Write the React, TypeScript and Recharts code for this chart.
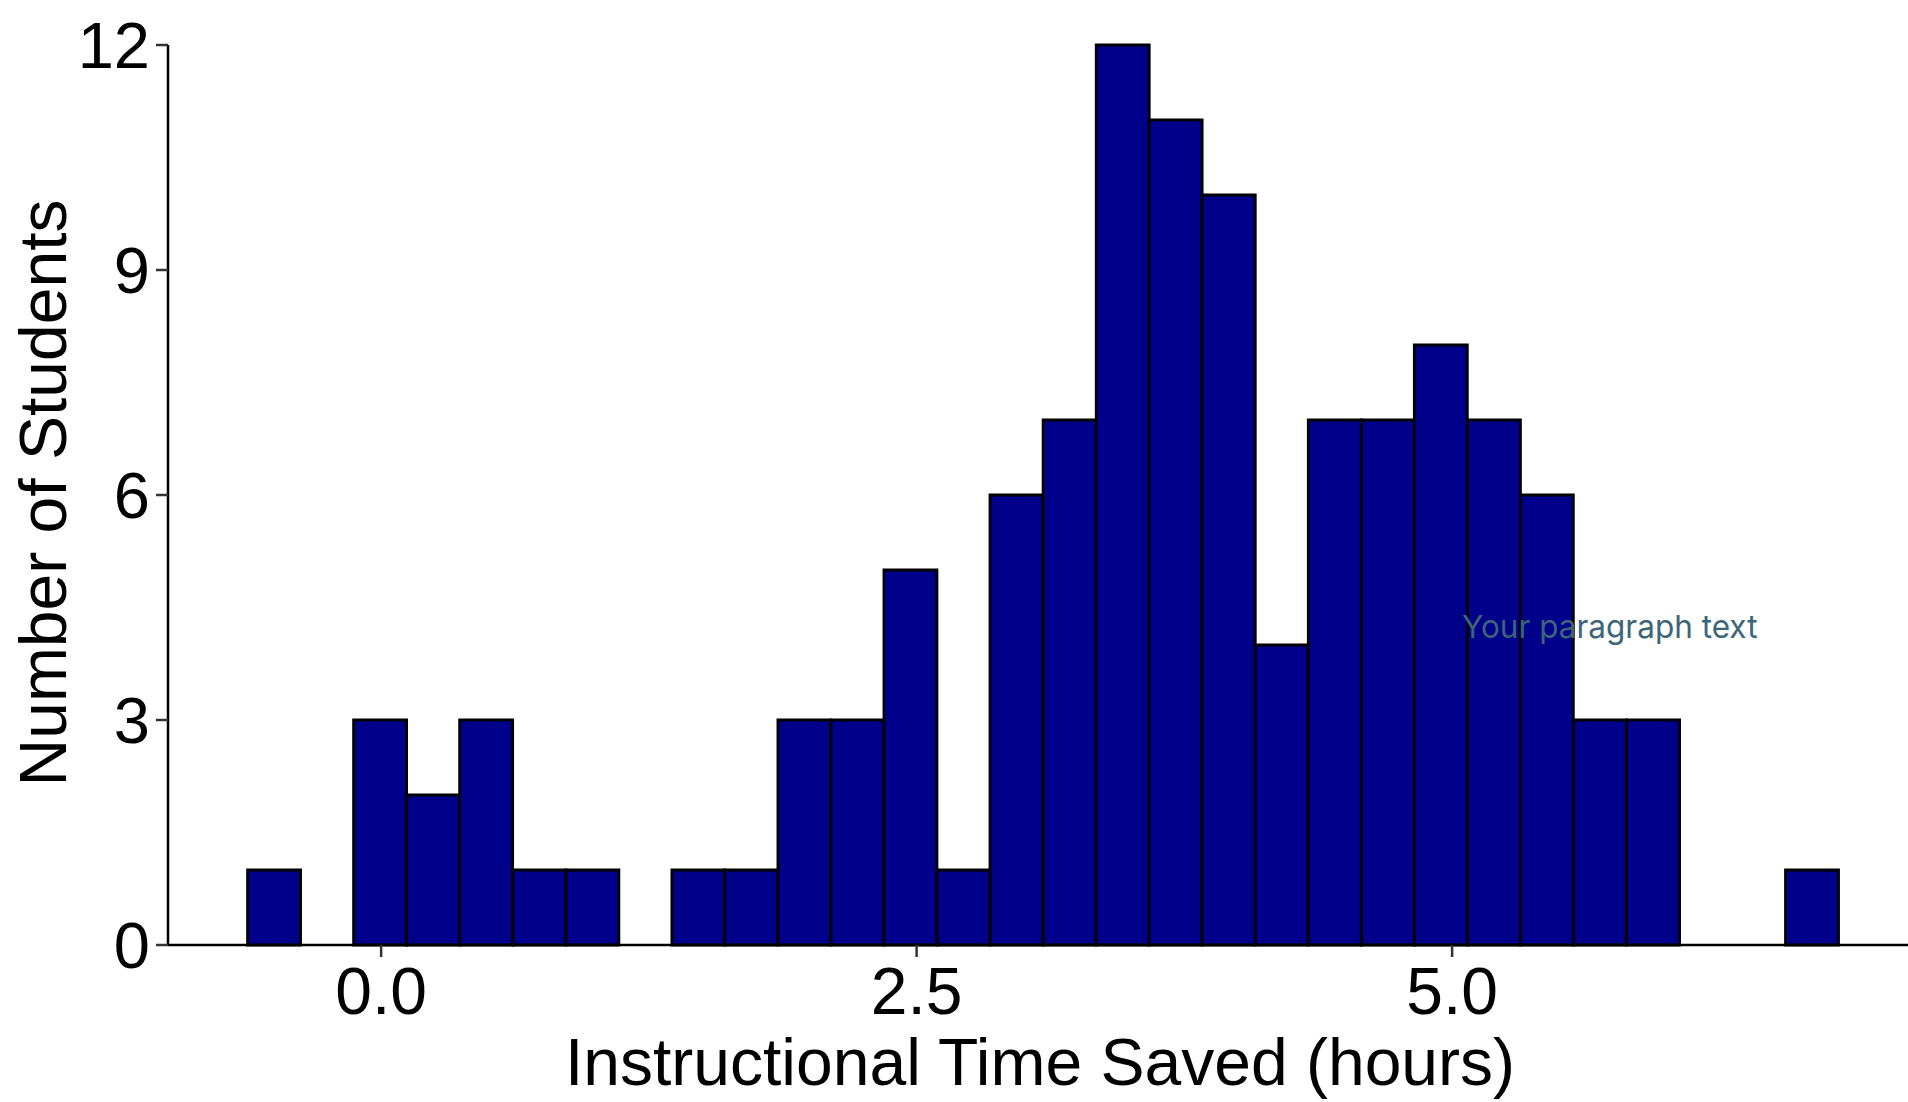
import React from 'react';
import { BarChart, Bar, XAxis, YAxis, Label } from 'recharts';

// Histogram bins: bin centers (hours), 30 bins of equal width
const binCenters = [
  -0.5, -0.252, -0.005, 0.243, 0.49, 0.738, 0.986, 1.233, 1.481, 1.728,
  1.976, 2.224, 2.471, 2.719, 2.966, 3.214, 3.462, 3.709, 3.957, 4.204,
  4.452, 4.7, 4.947, 5.195, 5.442, 5.69, 5.938, 6.185, 6.433, 6.68,
];
const studentCounts = [
  1, 0, 3, 2, 3, 1, 1, 0, 1, 1,
  3, 3, 5, 1, 6, 7, 12, 11, 10, 4,
  7, 7, 8, 7, 6, 3, 3, 0, 0, 1,
];
const xDomain = [-0.995, 7.175];
const xTicks = [0, 2.5, 5];
const yTicks = [0, 3, 6, 9, 12];
const xTitle = 'Instructional Time Saved (hours)';
const yTitle = 'Number of Students';
const noteText = 'Your paragraph text';

const data = binCenters.map((x, i) => ({ x, count: studentCounts[i] }));

const FONT = '"Liberation Sans", Arial, Helvetica, sans-serif';

export default function App() {
  return (
    <div
      style={{
        position: 'fixed',
        left: 0,
        top: 0,
        width: 1908,
        height: 1102,
        overflow: 'hidden',
        background: '#ffffff',
      }}
    >
      <BarChart
        width={1918}
        height={1102}
        data={data}
        margin={{ top: 45, right: 0, bottom: 0, left: 0 }}
        barCategoryGap={0}
        barGap={0}
      >
        <XAxis
          dataKey="x"
          type="number"
          domain={xDomain}
          allowDataOverflow
          ticks={xTicks}
          interval={0}
          tickFormatter={(v: any) => Number(v).toFixed(1)}
          height={157}
          axisLine={{ stroke: '#000000', strokeWidth: 2.5 }}
          tickLine={{ stroke: '#333333', strokeWidth: 2.5 }}
          tickSize={12}
          tickMargin={10}
          tick={{ fill: '#000000', fontSize: 66, fontFamily: FONT }}
        >
          <Label
            content={() => (
              <text
                x={1040}
                y={1085}
                textAnchor="middle"
                fontSize={66}
                fontFamily={FONT}
                fill="#000000"
              >
                {xTitle}
              </text>
            )}
          />
        </XAxis>
        <YAxis
          type="number"
          domain={[0, 12]}
          ticks={yTicks}
          interval={0}
          width={168}
          axisLine={{ stroke: '#000000', strokeWidth: 2.5 }}
          tickLine={{ stroke: '#333333', strokeWidth: 2.5 }}
          tickSize={12}
          tickMargin={6}
          tick={{ fill: '#000000', fontSize: 65, fontFamily: FONT }}
        >
          <Label
            content={() => (
              <text
                transform="rotate(-90)"
                x={-493}
                y={66}
                textAnchor="middle"
                fontSize={66}
                fontFamily={FONT}
                fill="#000000"
              >
                {yTitle}
              </text>
            )}
          />
        </YAxis>
        <Bar
          dataKey="count"
          fill="#00008B"
          stroke="#000000"
          strokeWidth={2.8}
          isAnimationActive={false}
        />
      </BarChart>
      <svg
        width={1908}
        height={1102}
        style={{ position: 'absolute', left: 0, top: 0, pointerEvents: 'none' }}
      >
        <text
          x={1462}
          y={638}
          fontSize={31.5}
          fontFamily="Inter, 'Noto Sans', sans-serif"
          fill="#3d6578"
        >
          {noteText}
        </text>
      </svg>
    </div>
  );
}
